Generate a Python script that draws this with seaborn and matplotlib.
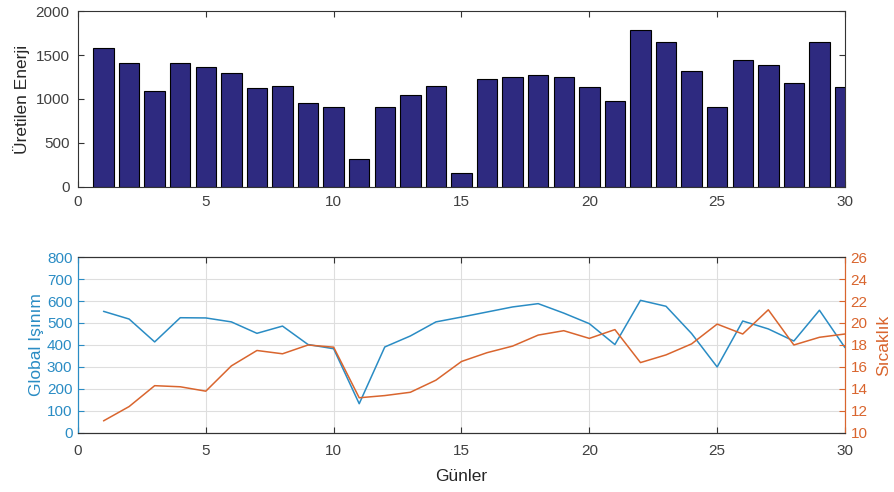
import numpy as np
import pandas as pd
import matplotlib
matplotlib.use("Agg")
import matplotlib.pyplot as plt
import seaborn as sns

days = list(range(1, 31))
energy = [1580, 1410, 1095, 1410, 1366, 1294, 1125, 1151, 958, 913,
          321, 913, 1049, 1151, 155, 1230, 1245, 1275, 1245, 1140,
          974, 1789, 1653, 1321, 913, 1442, 1381, 1185, 1653, 1140]
irradiance = [553, 518, 414, 524, 523, 505, 453, 486, 402, 383,
              133, 391, 441, 505, 527, 550, 573, 588, 545, 497,
              402, 603, 576, 452, 300, 509, 473, 418, 558, 388]
temperature = [11.1, 12.4, 14.3, 14.2, 13.8, 16.1, 17.5, 17.2, 18.0, 17.8,
               13.2, 13.4, 13.7, 14.8, 16.5, 17.3, 17.9, 18.9, 19.3, 18.6,
               19.4, 16.4, 17.1, 18.1, 19.9, 19.0, 21.2, 18.0, 18.7, 19.0]

df = pd.DataFrame({"Gün": days, "Enerji": energy,
                   "Işınım": irradiance, "Sıcaklık": temperature})

sns.set_theme(style="white")
plt.rcParams["font.family"] = ["Liberation Sans", "DejaVu Sans"]

BAR = "#2E2A80"
BLUE = "#2A8CC4"
ORANGE = "#D9652E"
TICK = "#404040"
LABEL = "#262626"

fig = plt.figure(figsize=(8.94, 4.92), dpi=100)
ax1 = fig.add_axes([0.0872, 0.620, 0.8580, 0.3576])
ax2 = fig.add_axes([0.0872, 0.120, 0.8580, 0.3576])

# Daily produced energy
sns.barplot(data=df, x="Gün", y="Enerji", ax=ax1, native_scale=True,
            color=BAR, saturation=1, width=0.8, edgecolor="black",
            linewidth=0.8)
ax1.set_xlim(0, 30)
ax1.set_ylim(0, 2000)
ax1.set_xticks(range(0, 31, 5))
ax1.set_yticks(range(0, 2001, 500))
ax1.set_xlabel("")
ax1.set_ylabel("Üretilen Enerji", fontsize=12.5, color=LABEL)
for s in ax1.spines.values():
    s.set_color("#333333")
    s.set_linewidth(0.8)
ax1.tick_params(direction="in", length=4, width=0.8, colors="#333333",
                labelcolor=TICK, labelsize=11, top=True, right=True,
                left=True, bottom=True, pad=6)

# Global irradiance and temperature
sns.lineplot(data=df, x="Gün", y="Işınım", ax=ax2, color=BLUE, linewidth=1.1)
ax2.set_xlim(0, 30)
ax2.set_ylim(0, 800)
ax2.set_xticks(range(0, 31, 5))
ax2.set_yticks(range(0, 801, 100))
ax2.grid(True, color="#dedede", linewidth=0.8)
ax2.set_xlabel("Günler", fontsize=12.5, color=LABEL, labelpad=8)
ax2.set_ylabel("Global Işınım", fontsize=12.5, color=BLUE, labelpad=2)
ax2.tick_params(axis="x", direction="in", length=4, width=0.8,
                colors="#333333", labelcolor=TICK, labelsize=11,
                top=True, bottom=True, pad=8)
ax2.tick_params(axis="y", direction="in", length=4, width=0.8,
                colors=BLUE, labelcolor=BLUE, labelsize=11, left=True,
                pad=4)

ax3 = ax2.twinx()
sns.lineplot(data=df, x="Gün", y="Sıcaklık", ax=ax3, color=ORANGE,
             linewidth=1.1)
ax3.set_ylim(10, 26)
ax3.set_yticks(range(10, 27, 2))
ax3.set_ylabel("Sıcaklık", fontsize=12.5, color=ORANGE, labelpad=6)
ax3.tick_params(axis="y", direction="in", length=4, width=0.8,
                colors=ORANGE, labelcolor=ORANGE, labelsize=11, right=True,
                pad=4)
ax3.grid(False)

for ax in (ax2, ax3):
    ax.spines["top"].set_color("#333333")
    ax.spines["bottom"].set_color("#333333")
    ax.spines["left"].set_color(BLUE)
    ax.spines["right"].set_color(ORANGE)
    for s in ax.spines.values():
        s.set_linewidth(0.8)

fig.savefig("out.png", dpi=100)
